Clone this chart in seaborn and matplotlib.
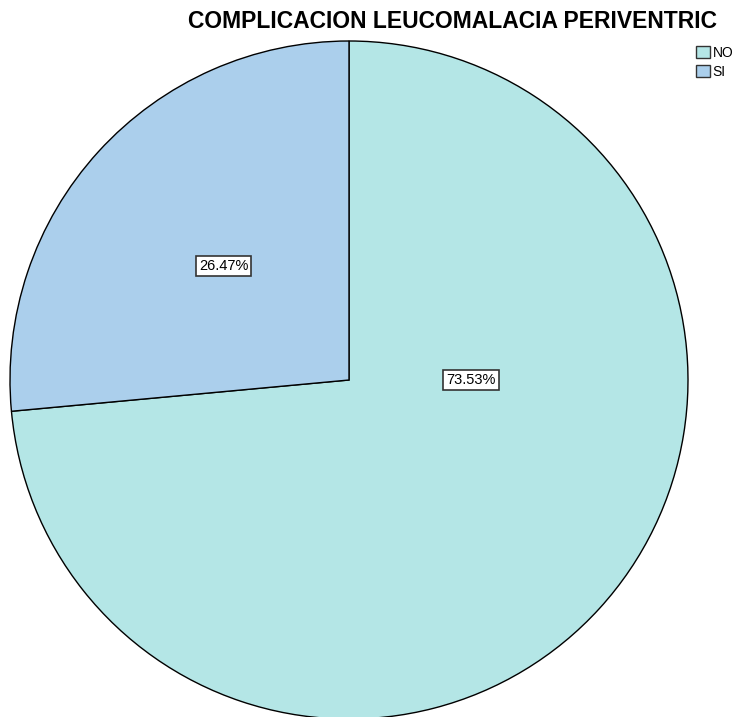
import numpy as np
import matplotlib
matplotlib.use('Agg')
import matplotlib.pyplot as plt
import seaborn as sns
from matplotlib.patches import Patch

# Data
categorias = ['NO', 'SI']
porcentajes = [73.53, 26.47]
colores = ['#B4E6E6', '#ABCFEC']
titulo = 'COMPLICACION LEUCOMALACIA PERIVENTRIC'

sns.set_theme(style='white')
plt.rcParams['font.family'] = ['Liberation Sans', 'DejaVu Sans']
plt.rcParams['text.color'] = 'black'

fig = plt.figure(figsize=(7.38, 7.17), dpi=100)
# pie centre ~ (349, 380) px, radius ~339 px
ax = fig.add_axes([10 / 738, (717 - 719) / 717, 678 / 738, 678 / 717])

wedges, textos, autotextos = ax.pie(
    porcentajes, colors=colores, startangle=90, counterclock=False,
    autopct='%1.2f%%', pctdistance=0.5, radius=1,
    wedgeprops=dict(edgecolor='black', linewidth=1.0),
    textprops=dict(fontsize=10.5, color='black'))
ax.set_xlim(-1, 1)
ax.set_ylim(-1, 1)
ax.set_aspect('equal')

for t in autotextos:
    t.set_bbox(dict(facecolor='white', edgecolor='#333333', boxstyle='square,pad=0.2', linewidth=1.2))
# SPSS puts the big slice label near the centre line
autotextos[0].set_position((0.36, 0.0))

fig.text(453 / 738, 1 - 22 / 717, titulo, ha='center', va='center',
         fontsize=16.5, fontweight='bold', color='black')

handles = [Patch(facecolor=c, edgecolor='#333333', linewidth=1) for c in colores]
fig.legend(handles, categorias, loc='upper left', bbox_to_anchor=(689 / 738, 1 - 39 / 717),
           frameon=False, fontsize=10, handlelength=1.0, handleheight=1.0,
           handletextpad=0.2, labelspacing=0.35, borderpad=0, labelcolor='black')

fig.savefig('out.png', dpi=100)
